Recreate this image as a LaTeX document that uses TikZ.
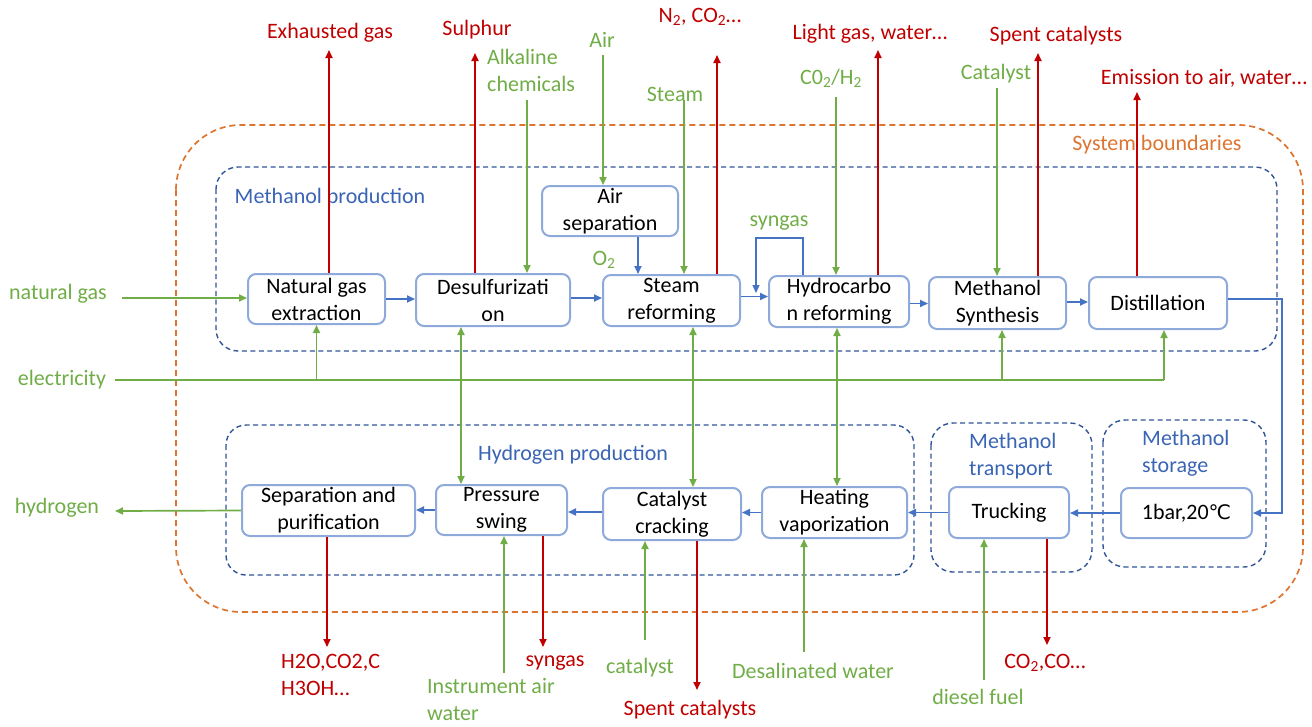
\documentclass[tikz,border=0pt]{standalone}
\usepackage{fontspec}
\setmainfont{Carlito}
\newfontfamily\djvsym{DejaVu Sans}
\usetikzlibrary{arrows.meta,calc}
\definecolor{cred}{HTML}{C00000}
\definecolor{cgreen}{HTML}{70AD47}
\definecolor{cblue}{HTML}{4472C4}
\definecolor{boxblue}{HTML}{8EAADB}
\definecolor{dblue}{HTML}{2F5597}
\definecolor{lblue}{HTML}{3A64B4}
\definecolor{corange}{HTML}{DD7430}
\begin{document}
\begin{tikzpicture}[x=1pt,y=-1pt,
  font=\fontsize{22}{27}\selectfont,
  proc/.style={draw=boxblue,line width=2pt,rounded corners=8pt,inner sep=0pt,align=center,fill=white},
  lab/.style={inner sep=0pt,align=center},
  rlab/.style={lab,text=cred},
  glab/.style={lab,text=cgreen},
  blab/.style={lab,text=lblue},
  tipA/.tip={Triangle[length=8pt,width=7pt]},
  rarr/.style={draw=cred,line width=1.7pt,-tipA},
  garr/.style={draw=cgreen,line width=1.7pt,-tipA},
  gline/.style={draw=cgreen,line width=1.4pt},
  gdbl/.style={draw=cgreen,line width=1.7pt,tipA-tipA},
  barr/.style={draw=cblue,line width=1.7pt,-tipA},
  loopline/.style={draw=cblue,line width=1.2pt,-{Triangle[length=8pt,width=7pt]}},
  bdash/.style={draw=dblue,line width=1.4pt,dash pattern=on 5pt off 3.5pt},
  odash/.style={draw=corange,line width=1.7pt,dash pattern=on 6pt off 4pt}]
\useasboundingbox (0,0) rectangle (1312,726);

% boundaries
\draw[odash,rounded corners=65pt] (176,125) rectangle (1303,612);
\draw[bdash,rounded corners=22pt] (216,167) rectangle (1277,351);
\draw[bdash,rounded corners=20pt] (226,425) rectangle (914,575);
\draw[bdash,rounded corners=22pt] (931,423) rectangle (1092,572);
\draw[bdash,rounded corners=22pt] (1103,420) rectangle (1266,567);

\node[lab,text=corange] (sysb) at (1157,145) {System boundaries};
\node[blab] (mprod) at (330,198) {Methanol production};
\node[blab] (hprod) at (573,455) {Hydrogen production};
\node[blab,align=left,anchor=west] (mtrans) at (969,456.5) {Methanol\\transport};
\node[blab,align=left,anchor=west] (mstorl) at (1142,453.5) {Methanol\\storage};

% process boxes
\node[proc,minimum width=136pt,minimum height=50pt] (asep) at (610,211) {Air\\separation};
\node[proc,minimum width=137pt,minimum height=50pt] (nge) at (316.5,299) {Natural gas\\extraction};
\node[proc,minimum width=154pt,minimum height=52pt] (des) at (493,300) {Desulfurizati\\on};
\node[proc,minimum width=137pt,minimum height=51pt] (sr) at (671.5,300.5) {Steam\\reforming};
\node[proc,minimum width=140pt,minimum height=51pt] (hc) at (839,301.5) {Hydrocarbo\\n reforming};
\node[proc,minimum width=137pt,minimum height=52pt] (ms) at (997.5,303) {Methanol\\Synthesis};
\node[proc,minimum width=138pt,minimum height=52pt] (dist) at (1158,303) {Distillation};
\node[proc,minimum width=173pt,minimum height=51pt] (sep) at (328.5,510.5) {Separation and\\purification};
\node[proc,minimum width=131pt,minimum height=50pt] (ps) at (501.5,510) {Pressure\\swing};
\node[proc,minimum width=138pt,minimum height=52pt] (cc) at (672,514) {Catalyst\\cracking};
\node[proc,minimum width=145pt,minimum height=51pt] (hv) at (834.5,512.5) {Heating\\vaporization};
\node[proc,minimum width=120pt,minimum height=51pt] (tr) at (1009,512.5) {Trucking};
\node[proc,minimum width=131pt,minimum height=50pt] (stor) at (1186.5,513) {1bar,20{\djvsym\fontsize{20}{24}\selectfont ℃}};

% top labels
\node[rlab] (exh) at (330,33) {Exhausted gas};
\node[rlab] (sul) at (477,30) {Sulphur};
\node[glab,align=left,anchor=west] (alk) at (487,70) {Alkaline\\chemicals};
\node[glab] (air) at (602,40) {Air};
\node[rlab] (n2) at (700,17) {N\textsubscript{2}, CO\textsubscript{2}…};
\node[glab] (steam) at (675,94) {Steam};
\node[rlab] (lg) at (870,34) {Light gas, water…};
\node[glab] (co2) at (831,78) {C0\textsubscript{2}/H\textsubscript{2}};
\node[rlab] (spent) at (1056,36) {Spent catalysts};
\node[glab] (catl) at (996,74) {Catalyst};
\node[rlab] (emis) at (1204,78) {Emission to air, water…};
\node[glab] (syng) at (779,223) {syngas};
\node[glab] (o2) at (604,260) {O\textsubscript{2}};
\node[glab] (ngl) at (58,294) {natural gas};
\node[glab] (elec) at (62,380) {electricity};
\node[glab] (h2l) at (57,508) {hydrogen};

% bottom labels
\node[rlab,align=left,anchor=west] (h2o) at (281,674.5) {H2O,CO2,C\\H3OH…};
\node[glab,align=left,anchor=west] (ia) at (427,700) {Instrument air\\water};
\node[rlab] (sgb) at (555,663) {syngas};
\node[glab] (catb) at (640,668) {catalyst};
\node[rlab] (spb) at (690,710) {Spent catalysts};
\node[glab] (dw) at (813,671) {Desalinated water};
\node[glab] (df) at (978,697) {diesel fuel};
\node[rlab] (coco) at (1045,663) {CO\textsubscript{2},CO…};

% free ends
\coordinate (exhE) at (329,50);
\coordinate (sulE) at (475,53);
\coordinate (alkS) at (527,100);
\coordinate (airS) at (603,55);
\coordinate (n2E) at (717,55);
\coordinate (stmS) at (684,100);
\coordinate (co2S) at (836,97);
\coordinate (lgE) at (878,50);
\coordinate (catS) at (997,88);
\coordinate (spE) at (1038,53);
\coordinate (emE) at (1137,92);
\coordinate (ngS) at (122,298);
\coordinate (elS) at (115,380);
\coordinate (elE) at (1164,380);
\coordinate (h2E) at (115,511);
\coordinate (o2x) at (638,0);
\coordinate (d1) at (461,0);
\coordinate (d2) at (693,0);
\coordinate (d3) at (837,0);
\coordinate (sepE) at (327,647);
\coordinate (iaS) at (504,673);
\coordinate (psE) at (543,647);
\coordinate (ccS) at (645,640);
\coordinate (ccE) at (697,690);
\coordinate (hvS) at (804,652);
\coordinate (trS) at (984,680);
\coordinate (trE) at (1047,645);

% top outputs / inputs
\draw[rarr] (nge.north -| exhE) -- (exhE);
\draw[rarr] (des.north -| sulE) -- (sulE);
\draw[garr] (alkS) -- (alkS |- des.north);
\draw[garr] (airS) -- (airS |- asep.north);
\draw[rarr] (sr.north -| n2E) -- (n2E);
\draw[garr] (stmS) -- (stmS |- sr.north);
\draw[garr] (co2S) -- (co2S |- hc.north);
\draw[rarr] (hc.north -| lgE) -- (lgE);
\draw[garr] (catS) -- (catS |- ms.north);
\draw[rarr] (ms.north -| spE) -- (spE);
\draw[rarr] (dist.north -| emE) -- (emE);

% main chain
\draw[barr] (asep.south -| o2x) -- (sr.north -| o2x);
\draw[garr] (ngS) -- (ngS -| nge.west);
\draw[barr] (nge.east) -- (nge.east -| des.west);
\draw[barr] ([yshift=2pt]des.east) -- ([yshift=2pt]des.east -| sr.west);
\draw[barr] ([yshift=4pt]sr.east) -- ([yshift=4pt]sr.east -| hc.west);
\draw[loopline] ([xshift=-36pt]hc.north) -- ++(0,-37) -| ([xshift=-12pt,yshift=8.5pt]hc.west);
\draw[barr] ([yshift=-2pt]hc.east) -- ([yshift=-2pt]hc.east -| ms.west);
\draw[barr] ([yshift=1pt]ms.east) -- ([yshift=1pt]ms.east -| dist.west);
\draw[barr] ([yshift=4pt]dist.east) -- ++(54,0) |- (stor.east);

% electricity
\draw[gline] (elS) -- (elE);
\draw[garr] (nge.south |- elS) -- (nge.south);
\draw[garr] ([xshift=4.5pt]ms.south |- elS) -- ([xshift=4.5pt]ms.south);
\draw[garr] (elE) -- (elE |- dist.south);

% links between rows
\draw[gdbl] (des.south -| d1) -- (ps.north -| d1);
\draw[gdbl] (sr.south -| d2) -- (cc.north -| d2);
\draw[gdbl] (hc.south -| d3) -- (hv.north -| d3);

% lower chain
\draw[barr] (stor.west) -- (stor.west -| tr.east);
\draw[barr] (tr.west) -- (tr.west -| hv.east);
\draw[barr] (hv.west) -- (hv.west -| cc.east);
\draw[barr] ([yshift=2pt]cc.west) -- ([yshift=2pt]cc.west -| ps.east);
\draw[barr] (ps.west) -- (ps.west -| sep.east);
\draw[garr] (sep.west) -- (h2E);

% bottom flows
\draw[rarr] (sep.south -| sepE) -- (sepE);
\draw[garr] (iaS) -- (iaS |- ps.south);
\draw[rarr] (ps.south -| psE) -- (psE);
\draw[garr] (ccS) -- (ccS |- cc.south);
\draw[rarr] (cc.south -| ccE) -- (ccE);
\draw[garr] (hvS) -- (hvS |- hv.south);
\draw[garr] (trS) -- (trS |- tr.south);
\draw[rarr] (tr.south -| trE) -- (trE);
\end{tikzpicture}
\end{document}
